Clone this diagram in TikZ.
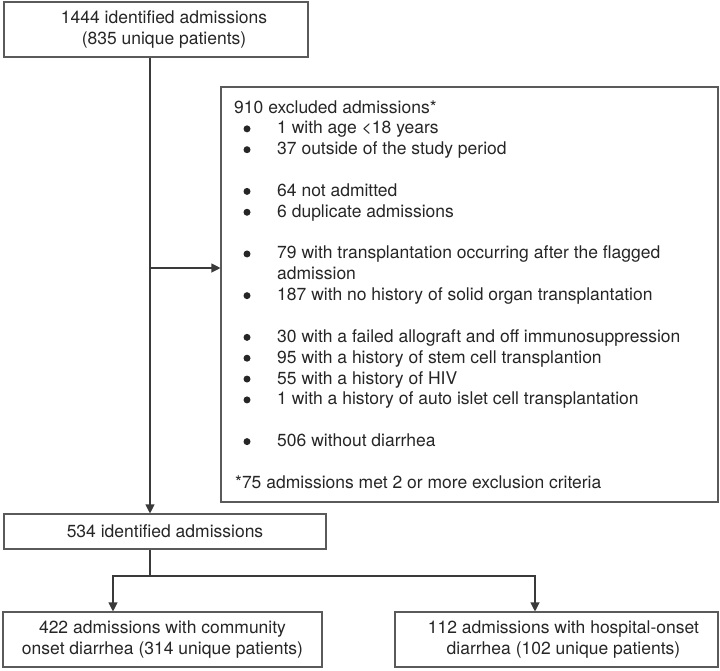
\documentclass[tikz,border=0pt]{standalone}
\usepackage{fontspec}
\setmainfont{TeX Gyre Heros}
\usetikzlibrary{arrows.meta}
\definecolor{txt}{HTML}{262626}
\definecolor{edgec}{HTML}{5A5A5A}
\definecolor{connc}{HTML}{3A3A3A}
\begin{document}
\begin{tikzpicture}[x=1pt,y=-1pt,
  font=\fontsize{17.5}{20.5}\selectfont, text=txt,
  box/.style={draw=edgec, line width=1.1pt, rectangle, inner sep=0pt, align=center},
  conn/.style={draw=connc, line width=1.1pt},
  arr/.style={conn, -{Triangle[length=9pt,width=9pt]}},
  txtline/.style={anchor=base west, inner sep=0pt},
  dot/.style={circle, fill=txt, minimum size=7pt, inner sep=0pt}]
\useasboundingbox (0,0) rectangle (720,670);

% boxes
\node[box, minimum width=304pt, minimum height=55pt] (top) at (156,29.5)
  {\hspace*{16pt}1444 identified admissions\\\hspace*{16pt}(835 unique patients)};
\node[box, minimum width=497pt, minimum height=415pt] (excl) at (469.5,294.5) {};
\node[box, minimum width=322pt, minimum height=35pt] (mid) at (165,531.5)
  {534 identified admissions};
\node[box, minimum width=319pt, minimum height=55pt] (left) at (162.5,639.5)
  {422 admissions with community\\onset diarrhea (314 unique patients)};
\node[box, minimum width=323pt, minimum height=55pt] (right) at (556.5,639.5)
  {\hspace*{14pt}112 admissions with hospital-onset\\\hspace*{14pt}diarrhea (102 unique patients)};

% exclusion text
\node[txtline] (h0) at (234,113) {910 excluded admissions*};
\foreach \k/\t in {1/1 with age <18 years,
                   2/37 outside of the study period,
                   4/64 not admitted,
                   5/6 duplicate admissions,
                   7/79 with transplantation occurring after the flagged,
                   9/187 with no history of solid organ transplantation,
                   11/30 with a failed allograft and off immunosuppression,
                   12/95 with a history of stem cell transplantion,
                   13/55 with a history of HIV,
                   14/1 with a history of auto islet cell transplantation,
                   16/506 without diarrhea}{
  \node[dot] (b\k) at (247,{108+20.85*\k}) {};
  \node[txtline] (l\k) at (277,{113+20.85*\k}) {\t};
}
\node[txtline] (l8) at (277,{113+20.85*8}) {admission};
\node[txtline] (foot) at (235,488) {*75 admissions met 2 or more exclusion criteria};

% connectors
\coordinate (spine) at (150,0);
\coordinate (br) at (150,268);
\coordinate (split) at (150,576);
\coordinate (lx) at (113,0);
\coordinate (rx) at (535,0);
\draw[arr] (top.south -| spine) -- (mid.north -| spine);
\draw[arr] (br) -- (br -| excl.west);
\draw[conn] (mid.south -| spine) -- (split);
\draw[arr] (split) -| (left.north -| lx);
\draw[arr] (split) -| (right.north -| rx);
\end{tikzpicture}
\end{document}
